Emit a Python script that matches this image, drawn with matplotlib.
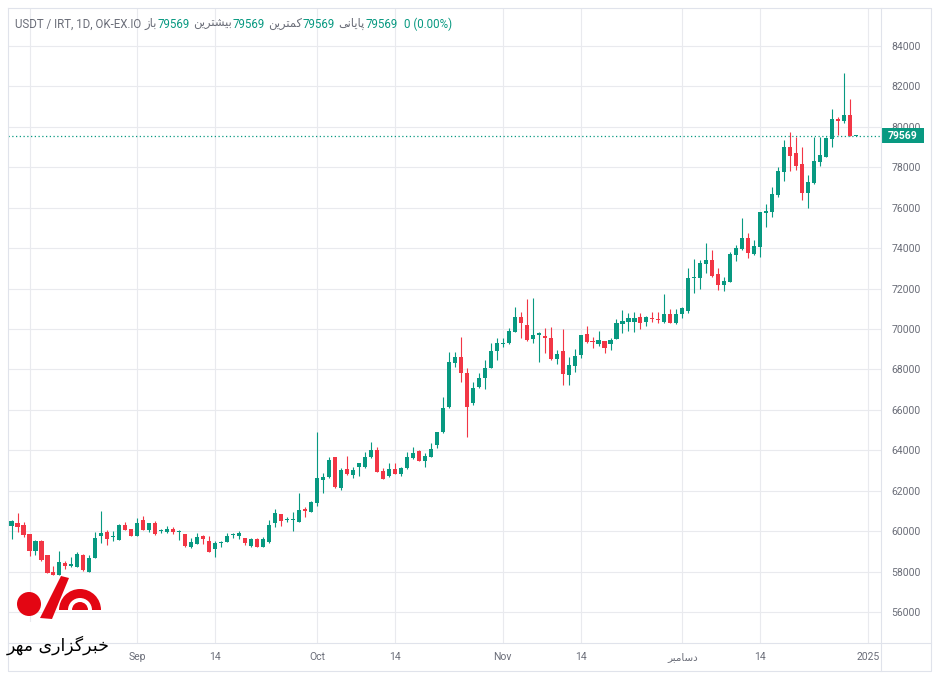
import matplotlib
matplotlib.use("Agg")
import matplotlib.pyplot as plt
import matplotlib.dates as mdates
from matplotlib.patches import Circle, Polygon, Wedge, Rectangle
import pandas as pd

# daily candles USDT/IRT, starting 2024-08-11
START = "2024-08-11"

OPEN = [
    60254, 60386, 60287, 59842, 59034, 59512, 58820, 57979, 57814, 58407, 58275, 58242, 58820, 57995,
    58688, 59760, 59958, 59726, 59562, 60287, 60106,
    59760, 60535, 60056, 60419, 60007, 59957, 60106, 59958, 59842, 59199, 59364, 59743, 59529, 59100,
    59430, 59479, 59793, 59760, 59661, 59265, 59595, 59232, 59479, 60386, 60831, 60535, 60551, 60469,
    61079, 60963,
    61408, 62530, 62662, 63651, 62118, 63058, 62777, 63189, 63156, 63651, 64014, 62992, 62744, 63058,
    62827, 63107, 63618, 63981, 63486, 63684, 64245, 64921, 66125, 68300, 68630, 67806, 66322, 67147,
    67559, 68053,
    68911, 69241, 69290, 69868, 70610, 70197, 69488, 69686, 69653, 69538, 68499, 68911, 67724, 68169,
    68713, 69736, 69422, 69257, 69406, 69241, 69488, 70230, 70362, 70362, 70577, 70329, 70560, 70494,
    70329, 70725,
    70280, 70742, 70907, 72506, 72539, 73215, 73413, 72720, 72160, 72341, 73660, 73957, 74485, 73710,
    74073, 75754, 75804, 76628, 77783, 78987, 78690, 78162, 76744, 77239, 78277, 78525, 79399, 80388,
    80290, 80586, 79569,
]
HIGH = [
    60551, 60881, 60436, 59842, 59562, 59562, 58820, 58292, 59001, 58539, 58704, 58952, 58853, 58820,
    59974, 61013, 60056, 60007, 60337, 60436, 60106,
    60666, 60765, 60419, 60518, 60122, 60271, 60221, 60056, 59842, 59677, 59891, 59809, 59776, 59529,
    59512, 59925, 59925, 59991, 59661, 59644, 59644, 59694, 60551, 61079, 60831, 60716, 60963, 61903,
    61178, 61507,
    64904, 62860, 63684, 63684, 63107, 63717, 63189, 63387, 63898, 64426, 64146, 63107, 63354, 63354,
    63189, 63898, 64179, 64014, 63882, 64377, 64921, 66652, 68878, 68878, 69587, 68053, 67394, 67839,
    68466, 69290,
    69538, 69538, 70032, 71105, 70857, 71484, 71550, 69868, 70032, 70115, 68960, 70000, 68630, 68993,
    69703, 70164, 69587, 69901, 69406, 69538, 70478, 70940, 70808, 70857, 70775, 70643, 70857, 70857,
    71731, 70972,
    70972, 71105, 72999, 73446, 73413, 74238, 73908, 72999, 72588, 73825, 74155, 75507, 74732, 74402,
    75804, 76167, 77041, 78030, 79350, 79762, 79482, 78987, 77618, 79482, 79482, 79482, 80867, 80504,
    82647, 81378, 79569,
]
LOW = [
    59628, 59973, 59726, 58787, 58820, 58523, 57913, 57814, 57814, 58110, 58242, 58242, 58045, 57995,
    58655, 59430, 59314, 59529, 59562, 60056, 59760,
    59760, 60056, 59973, 59809, 59891, 59891, 59842, 59562, 59232, 59150, 59364, 59364, 58985, 58737,
    59232, 59447, 59644, 59611, 59314, 59232, 59232, 59232, 59430, 60188, 60254, 60469, 60023, 60436,
    60716, 60930,
    61244, 61903, 62612, 62150, 62035, 62777, 62612, 62728, 63107, 63602, 62909, 62579, 62695, 62827,
    62728, 63058, 63585, 63486, 63156, 63651, 64097, 64871, 66075, 68103, 67394, 64673, 66240, 67064,
    67015, 68053,
    68466, 69093, 69241, 69868, 69538, 69422, 69323, 68383, 68828, 68466, 68268, 67229, 67229, 67889,
    68581, 69323, 69043, 69158, 68828, 68960, 69488, 69818, 69917, 69868, 69983, 70164, 70362, 70313,
    70280, 70280,
    70247, 70527, 70808, 71797, 71978, 72753, 72588, 71929, 71896, 72341, 73364, 73908, 73528, 73660,
    73545, 75029, 75557, 76546, 77338, 77832, 77865, 76381, 76002, 77173, 78063, 78492, 79020, 79597,
    80207, 79569, 79569,
]
CLOSE = [
    60502, 60221, 59809, 59018, 59512, 58556, 57946, 57814, 58457, 58292, 58374, 58869, 58078, 58688,
    59644, 59925, 59611, 59760, 60287, 60056, 59760,
    60419, 60056, 60386, 59842, 60040, 60106, 59941, 59974, 59265, 59463, 59727, 59628, 58985, 59397,
    59447, 59760, 59809, 59891, 59397, 59595, 59232, 59628, 60304, 60881, 60518, 60568, 60584, 61046,
    61013, 61458,
    62612, 62662, 63519, 62200, 63025, 62827, 63025, 63354, 63651, 64014, 62942, 62579, 63058, 62827,
    63107, 63651, 63849, 63486, 63717, 64047, 64921, 66075, 68383, 68630, 67806, 66157, 67064, 67559,
    68053, 68911,
    69290, 69323, 69901, 70610, 70313, 69455, 69703, 69785, 69538, 68499, 68746, 67757, 68218, 68664,
    69703, 69373, 69373, 69455, 69076, 69455, 70280, 70395, 70560, 70560, 70313, 70577, 70478, 70445,
    70725, 70313,
    70725, 71022, 72506, 72572, 73281, 73413, 72622, 72160, 72391, 73710, 73990, 74485, 73743, 74106,
    75771, 75837, 76661, 77816, 78987, 78574, 78063, 76744, 77255, 78311, 78607, 79432, 80372, 80306,
    80586, 79569, 79569,
]

LAST = 79569
PRICE_TICKS = list(range(56000, 84001, 2000))
DATE_TICKS = ["2024-08-14", "2024-09-01", "2024-09-14", "2024-10-01", "2024-10-14",
              "2024-11-01", "2024-11-14", "2024-12-01", "2024-12-14", "2025-01-01"]
# "دسامبر" written in presentation forms, visual order
DEC = "\uFEAE\uFE92\uFEE3\uFE8E\uFEB3\uFEA9"
DATE_LABELS = ["", "Sep", "14", "Oct", "14", "Nov", "14", DEC, "14", "2025"]

# legend row: باز / بیشترین / کمترین / پایانی, each followed by its value
HEADER = [
    ("USDT / IRT, 1D, OK-EX.IO", "grey"),
    ("\uFEAF\uFE8E\uFE91", "grey"),
    ("79569", "val"),
    ("\uFEE6\uFEF3\uFEAE\uFE98\uFEB8\uFEF4\uFE91", "grey"),
    ("79569", "val"),
    ("\uFEE6\uFEF3\uFEAE\uFE98\uFEE4\uFEDB", "grey"),
    ("79569", "val"),
    ("\uFEF0\uFEE7\uFE8E\uFEF3\uFE8E\uFB58", "grey"),
    ("79569", "val"),
    ("0 (0.00%)", "val"),
]
# "خبرگزاری مهر" in presentation forms, visual order
LOGO_TEXT = "\uFEAE\uFEEC\uFEE3 \uFEEF\uFEAD\uFE8D\uFEB0\uFB94\uFEAE\uFE92\uFEA7"

UP = "#089981"
DOWN = "#f23645"
GRID = "#e9eaee"
BORDER = "#e0e3eb"
TXT = "#6a6d78"

W, H = 940, 682

plt.rcParams["font.family"] = ["Roboto", "DejaVu Sans"]


def main():
    fig = plt.figure(figsize=(W / 100, H / 100), dpi=100)
    fig.patch.set_facecolor("white")

    # main pane: x 8..881, y 8..643 (pixels)
    ax = fig.add_axes([8 / W, (H - 643) / H, 873 / W, 635 / H])
    ax.set_facecolor("white")

    dates = pd.date_range(START, periods=len(OPEN), freq="D")
    x = mdates.date2num(dates)
    sep1 = mdates.date2num(pd.Timestamp("2024-09-01"))

    for xi, o, h, l, c in zip(x, OPEN, HIGH, LOW, CLOSE):
        col = UP if c >= o else DOWN
        ax.vlines(xi, l, h, color=col, lw=0.8, zorder=3)
        body = max(abs(c - o), 45)
        ax.bar(xi, body, bottom=min(o, c), width=0.68, color=col, lw=0, zorder=4)

    ax.axhline(LAST, color=UP, lw=0.9, ls=(0, (1, 2)), zorder=2)

    ax.set_xlim(sep1 - 21.59, sep1 + 124.16)
    ax.set_ylim(54466, 85880)

    ax.set_xticks(mdates.date2num(pd.to_datetime(DATE_TICKS)))
    ax.set_xticklabels(DATE_LABELS)
    ax.set_yticks(PRICE_TICKS)
    ax.set_yticklabels([str(v) for v in PRICE_TICKS])
    ax.yaxis.tick_right()
    ax.tick_params(axis="y", length=0, pad=7.5, labelsize=7.5, labelcolor=TXT)
    ax.tick_params(axis="x", length=0, pad=6.5, labelsize=7.5, labelcolor=TXT)
    ax.grid(True, color=GRID, lw=0.8, zorder=0)
    for s in ax.spines.values():
        s.set_visible(False)

    # overlay in pixel coordinates for frame, legend row, price tag and watermark
    ov = fig.add_axes([0, 0, 1, 1], zorder=5)
    ov.set_xlim(0, W)
    ov.set_ylim(H, 0)
    ov.axis("off")
    ov.patch.set_alpha(0)

    ov.plot([8, 931, 931, 8, 8], [8, 8, 671, 671, 8], color=BORDER, lw=0.8)
    ov.plot([881, 881], [8, 671], color=BORDER, lw=0.8)
    ov.plot([8, 931], [643, 643], color=BORDER, lw=0.8)

    # legend row laid out piece by piece
    renderer = fig.canvas.get_renderer()
    px = 15
    prev = None
    for txt, kind in HEADER:
        if prev is not None:
            if prev == "grey" and kind == "val":
                px += 1
            elif kind == "val" and prev == "val":
                px += 6
            else:
                px += 3
        t = ov.text(px, 24, txt, color=(UP if kind == "val" else TXT), fontsize=8.3,
                    ha="left", va="center")
        px = t.get_window_extent(renderer).x1
        prev = kind

    # last price tag on the price scale
    y_last = H - ax.transData.transform((0, LAST))[1]
    ov.add_patch(Rectangle((881, y_last - 7.5), 43, 15, color=UP, lw=0))
    ov.text(902.5, y_last, str(LAST), color="white", fontsize=7.5, fontweight="bold",
            ha="center", va="center")

    # watermark (Mehr news agency)
    ov.add_patch(Rectangle((0, 622), 113, 60, color="white", lw=0))
    ov.add_patch(Circle((29, 604), 12, color="#e30613", lw=0))
    ov.add_patch(Polygon([[40, 618], [52, 619], [69, 578], [61, 576]], color="#e30613", lw=0))
    ov.add_patch(Wedge((80, 610), 21, 180, 360, color="#e30613", lw=0))
    ov.add_patch(Wedge((80, 610), 12, 180, 360, width=4, color="white", lw=0))
    ov.text(58, 645, LOGO_TEXT, family=["DejaVu Sans"], fontsize=12.5,
            color="black", ha="center", va="center")

    fig.savefig("out.png", dpi=100, facecolor="white")


if __name__ == "__main__":
    main()
